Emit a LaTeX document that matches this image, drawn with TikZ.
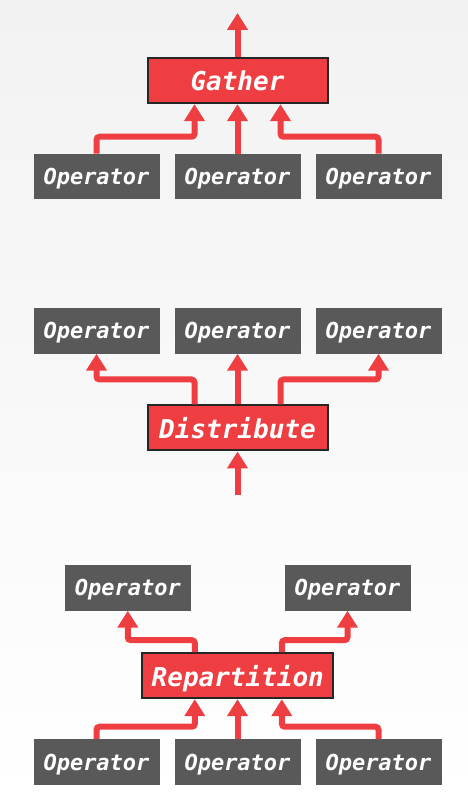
\documentclass[tikz,border=0pt]{standalone}
\usepackage{fontspec}
\setmonofont{DejaVu Sans Mono}
\usetikzlibrary{arrows.meta}
\definecolor{opred}{RGB}{239,62,66}
\definecolor{opgray}{RGB}{89,89,89}
\definecolor{bgtop}{RGB}{242,242,242}

\begin{document}
\begin{tikzpicture}[x=1pt, y=1pt,
    op/.style={fill=opgray, text=white, minimum width=126pt, minimum height=45.5pt,
        inner sep=0pt, text depth=0pt, font=\fontsize{22}{22}\selectfont\ttfamily\bfseries\itshape},
    xchg/.style={fill=opred, draw=black!85, line width=2pt, text=white, text depth=0pt,
        minimum height=45pt, inner sep=0pt, font=\fontsize{26}{26}\selectfont\ttfamily\bfseries\itshape},
    flow/.style={draw=opred, line width=6pt, rounded corners=3pt,
        -{Triangle[width=20pt, length=17pt]}}]
    \shade[top color=bgtop, bottom color=white] (0,0) rectangle (468,806);

    % gather
    \node [xchg, minimum width=180pt] (gather) at (237.5,725.3) {Gather};
    \foreach \i/\x in {1/96.5, 2/237.5, 3/378.5} {%
        \node [op] (g\i) at (\x,629.3) {Operator};
    }
    \coordinate (gout) at (237.5,793);
    \draw [flow] (gather.north) -- (gout);
    \draw [flow] (g1.north) -- ++(0,17) -| ([xshift=-43pt]gather.south);
    \draw [flow] (g2.north) -- (gather.south);
    \draw [flow] (g3.north) -- ++(0,17) -| ([xshift=43pt]gather.south);

    % distribute
    \node [xchg, minimum width=180pt] (dist) at (237.5,378) {Distribute};
    \foreach \i/\x in {1/96.5, 2/237.5, 3/378.5} {%
        \node [op] (d\i) at (\x,475.2) {Operator};
    }
    \coordinate (din) at (237.5,311);
    \draw [flow] (din) -- (dist.south);
    \draw [flow] ([xshift=-43pt]dist.north) -- ++(0,25) -| (d1.south);
    \draw [flow] (dist.north) -- (d2.south);
    \draw [flow] ([xshift=43pt]dist.north) -- ++(0,25) -| (d3.south);

    % repartition
    \node [xchg, minimum width=190.8pt] (repart) at (237.8,130.3) {Repartition};
    \node [op] (t1) at (127.8,218.2) {Operator};
    \node [op] (t2) at (347.5,218.2) {Operator};
    \foreach \i/\x in {1/96.5, 2/237.5, 3/378.5} {%
        \node [op] (b\i) at (\x,44) {Operator};
    }
    \draw [flow] ([xshift=-43pt]repart.north) -- ++(0,12) -| (t1.south);
    \draw [flow] ([xshift=44pt]repart.north) -- ++(0,12) -| (t2.south);
    \draw [flow] (b1.north) -- ++(0,12.3) -| ([xshift=-43pt]repart.south);
    \draw [flow] (b2.north) -- (b2.north |- repart.south);
    \draw [flow] (b3.north) -- ++(0,12.3) -| ([xshift=44pt]repart.south);
\end{tikzpicture}
\end{document}
